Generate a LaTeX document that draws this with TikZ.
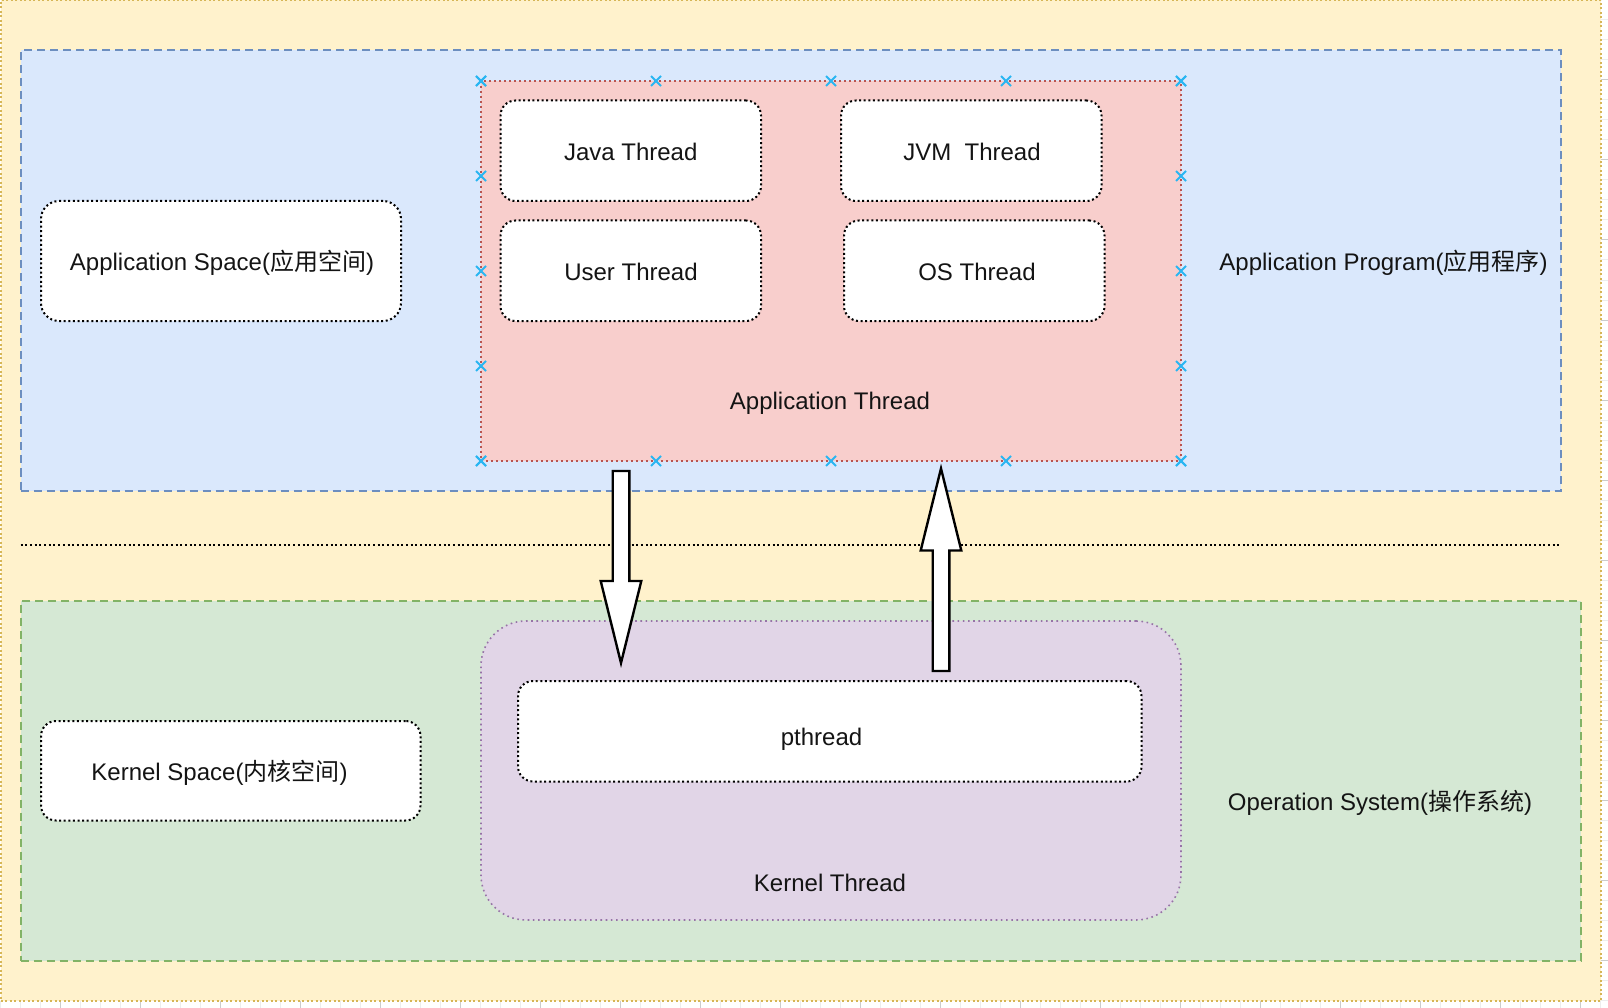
\documentclass[tikz,border=0pt]{standalone}
\usepackage{fontspec}
\setmainfont{Liberation Sans}
\newfontfamily\cjk{Noto Sans CJK SC}
\usetikzlibrary{calc}

\definecolor{osfill}{HTML}{FFF2CC}
\definecolor{osline}{HTML}{D6B656}
\definecolor{appfill}{HTML}{DAE8FC}
\definecolor{appline}{HTML}{6C8EBF}
\definecolor{kfill}{HTML}{D5E8D4}
\definecolor{kline}{HTML}{82B366}
\definecolor{thfill}{HTML}{F8CECC}
\definecolor{thline}{HTML}{B85450}
\definecolor{ktfill}{HTML}{E1D5E7}
\definecolor{ktline}{HTML}{9673A6}
\definecolor{handle}{HTML}{29B6F2}
\definecolor{txt}{HTML}{141414}

\newcommand{\labfont}{\fontsize{24}{28}\selectfont}

\begin{document}
\begin{tikzpicture}[x=1pt,y=-1pt,
  area/.style={rectangle, inner sep=0pt, outer sep=0pt, line width=2pt},
  threadbox/.style={rectangle, rounded corners=15pt, draw=black, fill=white,
    line width=2pt, dash pattern=on 2pt off 2.6pt, inner sep=0pt, outer sep=0pt},
  lab/.style={font=\labfont, text=txt, inner sep=0pt},
  xmark/.style={draw=handle, line width=2pt},
  fatarr/.style={draw=black, fill=white, line width=2.4pt, line join=miter},
  gridminor/.style={draw=black!7, line width=1pt},
  gridmajor/.style={draw=black!20, line width=1pt}]

\useasboundingbox (0,0) rectangle (1608,1008);
\fill[white] (0,0) rectangle (1608,1008);

% canvas grid peeking out past the page edge
\foreach \gx in {0,20,...,1600} {\draw[gridminor] (\gx,1001) -- (\gx,1008);}
\foreach \gx in {60,140,...,1600} {\draw[gridmajor] (\gx,1001) -- (\gx,1008);}
\foreach \gy in {0,20,...,1000} {\draw[gridminor] (1601,\gy) -- (1608,\gy);}
\foreach \gy in {80,160,...,1000} {\draw[gridmajor] (1601,\gy) -- (1608,\gy);}

% whole system
\node[area, fill=osfill, draw=osline, dash pattern=on 2pt off 2.5pt,
  minimum width=1600.5pt, minimum height=1000.5pt] (os) at (800.75,500.75) {};

% user space area
\node[area, fill=appfill, draw=appline, dash pattern=on 8pt off 5pt,
  minimum width=1540.5pt, minimum height=440pt] (appprog) at (790.75,270.5) {};

% kernel space area
\node[area, fill=kfill, draw=kline, dash pattern=on 8pt off 5pt,
  minimum width=1560.5pt, minimum height=359.5pt] (opsys) at (800.75,780.75) {};

% boundary between user and kernel space
\coordinate (sepL) at (20.5,544.5);
\coordinate (sepR) at (1559,544.5);
\draw[black, line width=2pt, dash pattern=on 2pt off 2.7pt] (sepL) -- (sepR);

% application thread container
\node[area, fill=thfill, draw=thline, line width=1.6pt, dash pattern=on 1.6pt off 3.4pt,
  minimum width=700pt, minimum height=380pt] (appthread) at (831,271) {};

% selection handles around the application thread container
\foreach \t in {0,0.25,0.5,0.75,1} {
  \foreach \a/\b in {north west/north east, south west/south east,
                     north west/south west, north east/south east} {
    \coordinate (h) at ($(appthread.\a)!\t!(appthread.\b)$);
    \draw[xmark] ($(h)+(-5,-5)$) -- ($(h)+(5,5)$) ($(h)+(-5,5)$) -- ($(h)+(5,-5)$);
  }
}

% kernel thread container
\node[area, rounded corners=45pt, fill=ktfill, draw=ktline, line width=1.6pt,
  dash pattern=on 1.6pt off 3.6pt,
  minimum width=700pt, minimum height=299pt] (kthread) at (831,770.5) {};

% thread kinds
\node[threadbox, minimum width=260.5pt, minimum height=100.5pt] (java) at (630.75,150.75) {};
\node[lab] (javat) at (630.75,152) {Java Thread};
\node[threadbox, minimum width=260.5pt, minimum height=100.5pt] (jvm) at (971.25,150.75) {};
\node[lab] (jvmt) at (972,152) {JVM\ \ Thread};
\node[threadbox, minimum width=260.5pt, minimum height=100.5pt] (user) at (630.75,270.75) {};
\node[lab] (usert) at (631,272) {User Thread};
\node[threadbox, minimum width=260.5pt, minimum height=100.5pt] (osth) at (974.25,270.75) {};
\node[lab] (ostht) at (977,272) {OS Thread};

\node[threadbox, rounded corners=18pt, minimum width=360pt, minimum height=120pt]
  (appspace) at (221,261) {};
\node[lab] (appspacet) at (222,263) {Application Space({\cjk 应用空间})};

\node[threadbox, rounded corners=15pt, minimum width=379.5pt, minimum height=99.5pt]
  (kspace) at (230.75,770.75) {};
\node[lab] (kspacet) at (219.5,772.5) {Kernel Space({\cjk 内核空间})};

\node[threadbox, rounded corners=15pt, minimum width=623.5pt, minimum height=100.5pt]
  (pthread) at (829.75,731.25) {};
\node[lab] (pthreadt) at (821.5,739) {pthread};

% container labels
\node[lab] (appthreadt) at (830,403.5) {Application Thread};
\node[lab] (kthreadt) at (830,883) {Kernel Thread};
\node[lab] (appprogt) at (1383.5,263) {Application Program({\cjk 应用程序})};
\node[lab] (opsyst) at (1380,802.5) {Operation System({\cjk 操作系统})};

% mapping arrows between the two thread levels
\coordinate (dnA) at (621,471);
\coordinate (dnB) at (621,663);
\draw[fatarr] ($(dnA)+(-8.3,0)$) -- ($(dnA)+(8.3,0)$) -- ($(dnB)+(8.3,-82)$)
  -- ($(dnB)+(20.3,-82)$) -- (dnB) -- ($(dnB)+(-20.3,-82)$)
  -- ($(dnB)+(-8.3,-82)$) -- cycle;

\coordinate (upA) at (941,671);
\coordinate (upB) at (941,468.5);
\draw[fatarr] ($(upA)+(-8.3,0)$) -- ($(upA)+(8.3,0)$) -- ($(upB)+(8.3,82)$)
  -- ($(upB)+(20.3,82)$) -- (upB) -- ($(upB)+(-20.3,82)$)
  -- ($(upB)+(-8.3,82)$) -- cycle;

\end{tikzpicture}
\end{document}
